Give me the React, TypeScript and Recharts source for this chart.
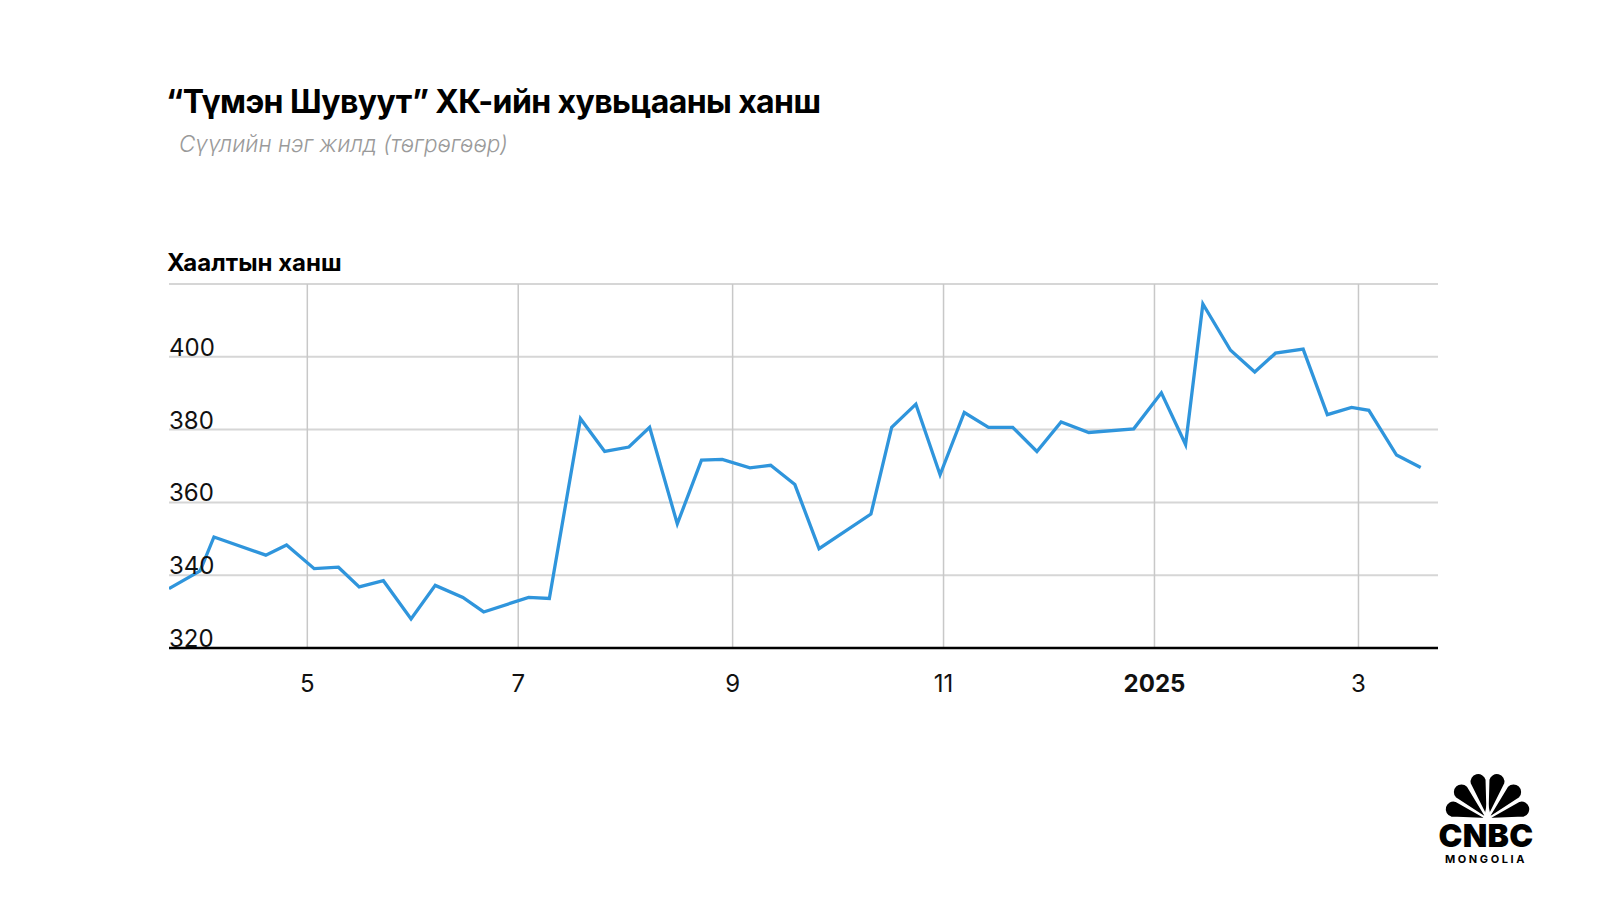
import { LineChart, Line, XAxis, YAxis, CartesianGrid } from "recharts";

// хаалтын ханш (долоо хоног тутам)
const dates = [
  "2024-03-22", "2024-03-31", "2024-04-04", "2024-04-19", "2024-04-25",
  "2024-05-03", "2024-05-10", "2024-05-16", "2024-05-23", "2024-05-31",
  "2024-06-07", "2024-06-15", "2024-06-21", "2024-07-04", "2024-07-10",
  "2024-07-19", "2024-07-26", "2024-08-02", "2024-08-08", "2024-08-16",
  "2024-08-23", "2024-08-29", "2024-09-06", "2024-09-12", "2024-09-19",
  "2024-09-26", "2024-10-11", "2024-10-17", "2024-10-24", "2024-10-31",
  "2024-11-07", "2024-11-14", "2024-11-21", "2024-11-28", "2024-12-05",
  "2024-12-13", "2024-12-26", "2025-01-03", "2025-01-10", "2025-01-15",
  "2025-01-23", "2025-01-30", "2025-02-05", "2025-02-13", "2025-02-20",
  "2025-02-27", "2025-03-04", "2025-03-12", "2025-03-19",
];

const prices = [
  336.3, 341.2, 350.5, 345.5, 348.3,
  341.8, 342.2, 336.8, 338.5, 328.0,
  337.2, 333.9, 329.9, 333.9, 333.6,
  383.0, 374.0, 375.2, 380.6, 354.1,
  371.6, 371.8, 369.5, 370.2, 364.9,
  347.3, 356.8, 380.6, 387.0, 367.6,
  384.7, 380.6, 380.6, 374.0, 382.1,
  379.2, 380.2, 390.1, 375.9, 414.5,
  401.8, 395.8, 401.0, 402.1, 384.1,
  386.1, 385.3, 373.0, 369.6,
];

const monthTicks = ["2024-05-01", "2024-07-01", "2024-09-01", "2024-11-01", "2025-01-01", "2025-03-01"];
const monthLabels = ["5", "7", "9", "11", "2025", "3"];
const yTicks = [320, 340, 360, 380, 400, 420];
const xEnd = "2025-03-24";

const toTime = (d: string) => new Date(d + "T00:00:00Z").getTime();

const data = dates.map((d, i) => ({ t: toTime(d), price: prices[i] }));
const xTicks = monthTicks.map(toTime);

const FONT = "Inter, 'Noto Sans', sans-serif";

const YTick = ({ x, y, payload }: any) => {
  if (payload.value === 420) return <g />;
  return (
    <text x={x} y={y - 1} textAnchor="start" fontSize={24} fill="#111" fontFamily={FONT}>
      {payload.value}
    </text>
  );
};

const XTick = ({ x, y, payload }: any) => {
  const idx = xTicks.indexOf(payload.value);
  const label = monthLabels[idx] ?? "";
  const bold = label.length === 4;
  return (
    <text
      x={x}
      y={y}
      dy="0.72em"
      textAnchor="middle"
      fontSize={24}
      fontWeight={bold ? 700 : 400}
      fill="#111"
      fontFamily={FONT}
    >
      {label}
    </text>
  );
};

// CNBC peacock, six feathers fanned from one base
const feathers = [
  { a: -74, len: 44 },
  { a: -44, len: 46 },
  { a: -14, len: 47 },
  { a: 14, len: 47 },
  { a: 44, len: 46 },
  { a: 74, len: 44 },
];

function Peacock() {
  const cx = 1487.5;
  const cy = 819;
  const w = 8.5;
  return (
    <g>
      {feathers.map(({ a, len }) => {
        const d = `M0 0 L ${-w} ${-(len - w)} A ${w} ${w} 0 0 1 ${w} ${-(len - w)} Z`;
        return (
          <path
            key={a}
            d={d}
            fill="#000"
            stroke="#fff"
            strokeWidth={1.8}
            strokeLinejoin="round"
            transform={`translate(${cx} ${cy}) rotate(${a})`}
          />
        );
      })}
      <path d={`M${cx - 4} ${cy + 1} L${cx} ${cy - 18} L${cx + 4} ${cy + 1} Z`} fill="#fff" />
      <rect x={cx - 50} y={cy} width={100} height={6} fill="#fff" />
    </g>
  );
}

export default function App() {
  return (
    <div style={{ position: "absolute", left: 0, top: 0, width: 1600, height: 900, background: "#fff" }}>
      <div style={{ position: "absolute", left: 0, top: 0 }}>
        <LineChart
          width={1600}
          height={900}
          data={data}
          margin={{ top: 284, right: 162, bottom: 212, left: 168 }}
        >
          <CartesianGrid vertical={false} stroke="#d6d6d6" strokeWidth={2} syncWithTicks />
          <CartesianGrid horizontal={false} stroke="#c8c8c8" strokeWidth={1.5} syncWithTicks />
          <XAxis
            dataKey="t"
            type="number"
            scale="time"
            domain={[toTime(dates[0]), toTime(xEnd)]}
            ticks={xTicks}
            interval={0}
            tick={<XTick />}
            tickLine={false}
            tickSize={0}
            tickMargin={27}
            height={40}
            axisLine={{ stroke: "#000", strokeWidth: 2.5 }}
            allowDataOverflow
          />
          <YAxis
            domain={[320, 420]}
            ticks={yTicks}
            interval={0}
            width={1}
            axisLine={false}
            tickLine={false}
            tickSize={0}
            tickMargin={0}
            tick={<YTick />}
            allowDataOverflow
          />
          <Line
            type="linear"
            dataKey="price"
            stroke="#2f95dc"
            strokeWidth={3.3}
            dot={false}
            activeDot={false}
            isAnimationActive={false}
          />
        </LineChart>
      </div>
      <svg
        width={1600}
        height={900}
        style={{ position: "absolute", left: 0, top: 0, pointerEvents: "none" }}
      >
        <text x={166} y={113} fontSize={32} fontWeight={700} fill="#000" fontFamily={FONT} letterSpacing={-0.6}>
          “Түмэн Шувуут” ХК-ийн хувьцааны ханш
        </text>
        <text x={179} y={152} fontSize={22.5} fontStyle="italic" fontWeight={300} fill="#9a9a9a" fontFamily={FONT}>
          Сүүлийн нэг жилд (төгрөгөөр)
        </text>
        <text x={167} y={271} fontSize={24} fontWeight={700} fill="#000" fontFamily={FONT}>
          Хаалтын ханш
        </text>
        <Peacock />
        <text x={1486} y={847} fontSize={32} fontWeight={900} fill="#000" fontFamily={FONT} textAnchor="middle" letterSpacing={0.3}>
          CNBC
        </text>
        <text x={1486} y={863} fontSize={11} fontWeight={700} fill="#000" fontFamily={FONT} textAnchor="middle" letterSpacing={2.6}>
          MONGOLIA
        </text>
      </svg>
    </div>
  );
}
